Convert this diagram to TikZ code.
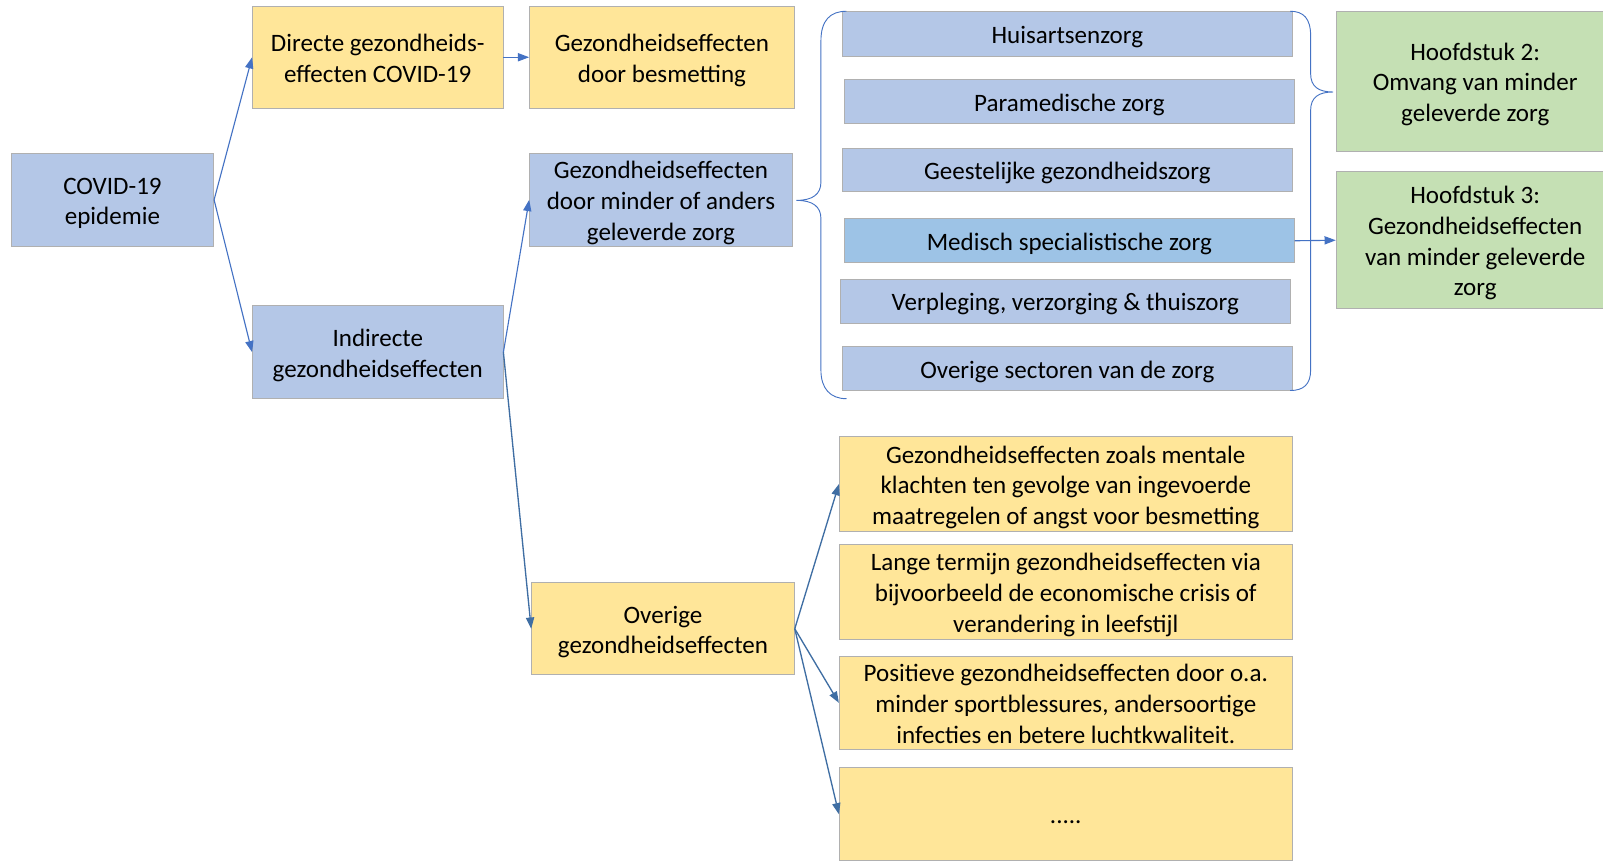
\documentclass[tikz,border=0pt]{standalone}
\usepackage{fontspec}
\setmainfont{Carlito}
\usetikzlibrary{arrows.meta}
\definecolor{bfill}{HTML}{B4C7E7}
\definecolor{bdark}{HTML}{9DC3E6}
\definecolor{yfill}{HTML}{FFE699}
\definecolor{gfill}{HTML}{C5E0B4}
\definecolor{edgegray}{HTML}{B0B0B0}
\definecolor{arrblue}{HTML}{4472C4}
\definecolor{arrdark}{HTML}{3F6EA3}
\newcommand{\bl}{\rule[-5pt]{0pt}{29pt}}
\begin{document}
\begin{tikzpicture}[x=1pt,y=-1pt,
  every node/.style={font=\fontsize{24.5}{30}\selectfont, text=black, align=center, inner sep=0pt},
  boxb/.style={draw=edgegray, line width=0.8pt, fill=bfill, rectangle},
  boxd/.style={draw=edgegray, line width=0.8pt, fill=bdark, rectangle},
  boxy/.style={draw=edgegray, line width=0.8pt, fill=yfill, rectangle},
  boxg/.style={draw=edgegray, line width=0.8pt, fill=gfill, rectangle},
  arr/.style={draw=arrblue, line width=1.1pt, -{Triangle[length=11pt,width=8pt]}},
  arrd/.style={draw=arrdark, line width=1.3pt, -{Triangle[length=11pt,width=8pt]}},
  brace/.style={draw=arrblue, line width=0.9pt}
]
\useasboundingbox (0,0) rectangle (1568,842);
\fill[white] (0,0) rectangle (1568,842);

% left column
\node[boxb, minimum width=198pt, minimum height=91pt] (covid) at (110,195.5) {\bl COVID-19\\epidemie\bl};
\node[boxy, minimum width=245pt, minimum height=100pt] (directe) at (369.5,56) {\bl Directe gezondheids-\\effecten COVID-19\bl};
\node[boxb, minimum width=245pt, minimum height=91pt] (indirecte) at (369.5,344.5) {\bl Indirecte\\gezondheidseffecten\bl};
\node[boxy, minimum width=259pt, minimum height=100pt] (besm) at (647.5,56) {\bl Gezondheidseffecten\\door besmetting\bl};
\node[boxb, minimum width=257pt, minimum height=91pt] (minder) at (646.5,195.5) {\bl Gezondheidseffecten\\door minder of anders\\geleverde zorg\bl};
\node[boxy, minimum width=257pt, minimum height=90pt] (overige) at (648.5,615) {\bl Overige\\gezondheidseffecten\bl};

% sectors
\node[boxb, minimum width=440pt, minimum height=44pt] (huis) at (1044,33) {\bl Huisartsenzorg\bl};
\node[boxb, minimum width=440pt, minimum height=43pt] (para) at (1046,99.5) {\bl Paramedische zorg\bl};
\node[boxb, minimum width=440pt, minimum height=42pt] (geest) at (1044,166) {\bl Geestelijke gezondheidszorg\bl};
\node[boxd, minimum width=440pt, minimum height=43pt] (medisch) at (1046,235.5) {\bl Medisch specialistische zorg\bl};
\node[boxb, minimum width=440pt, minimum height=43pt] (verpl) at (1042,294.5) {\bl Verpleging, verzorging \& thuiszorg\bl};
\node[boxb, minimum width=440pt, minimum height=43pt] (overs) at (1044,360.5) {\bl Overige sectoren van de zorg\bl};

% chapters
\node[boxg, minimum width=272pt, minimum height=137pt] (h2) at (1443,79.5) {\bl Hoofdstuk 2:\\Omvang van minder\\geleverde zorg\bl};
\node[boxg, minimum width=272pt, minimum height=134pt] (h3) at (1443,235) {\bl Hoofdstuk 3:\\Gezondheidseffecten\\van minder geleverde\\zorg\bl};

% lower yellow boxes
\node[boxy, minimum width=443pt, minimum height=93pt] (y1) at (1042.5,473.5) {\bl Gezondheidseffecten zoals mentale\\klachten ten gevolge van ingevoerde\\maatregelen of angst voor besmetting\bl};
\node[boxy, minimum width=443pt, minimum height=92pt] (y2) at (1042.5,579) {\bl Lange termijn gezondheidseffecten via\\bijvoorbeeld de economische crisis of\\verandering in leefstijl\bl};
\node[boxy, minimum width=443pt, minimum height=91pt] (y3) at (1042.5,687.5) {\bl Positieve gezondheidseffecten door o.a.\\minder sportblessures, andersoortige\\infecties en betere luchtkwaliteit.\bl};
\node[boxy, minimum width=443pt, minimum height=91pt] (y4) at (1042.5,796.5) {\bl .....\bl};

% braces
\draw[brace] (828,11) .. controls (812,11) and (803,20) .. (803,40) -- (803,178)
  .. controls (803,190) and (795,196) .. (779,196)
  .. controls (795,196) and (803,202) .. (803,214) -- (803,362)
  .. controls (803,380) and (812,390) .. (828,390);
\draw[brace] (1262,11) .. controls (1275,11) and (1282,18) .. (1282,35) -- (1282,72)
  .. controls (1282,85) and (1290,90) .. (1304,90)
  .. controls (1290,90) and (1282,95) .. (1282,108) -- (1282,362)
  .. controls (1282,376) and (1275,382) .. (1262,382);

% arrows
\draw[arr] (covid.east) -- (directe.west);
\draw[arr] (covid.east) -- (indirecte.west);
\draw[arr] (directe.east) -- (besm.west);
\draw[arr] (indirecte.east) -- (minder.west);
\draw[arrd] (indirecte.east) -- (overige.west);
\draw[arrd] (overige.east) -- (y1.west);
\draw[arrd] (overige.east) -- (y3.west);
\draw[arrd] (overige.east) -- (y4.west);
\draw[arr] (medisch.east) -- (h3.west);
\end{tikzpicture}
\end{document}
